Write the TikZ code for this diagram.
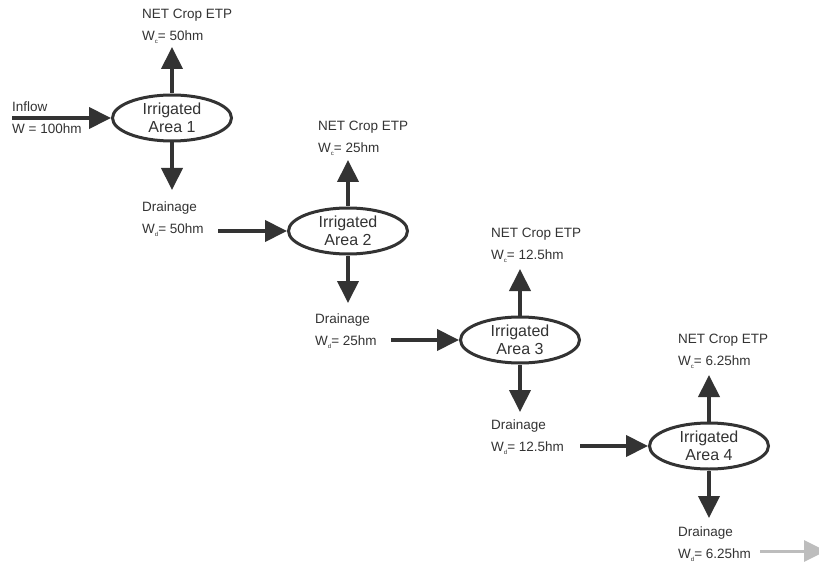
\documentclass[tikz,border=0pt]{standalone}
\usepackage{fontspec}
\setmainfont{Liberation Sans}
\usetikzlibrary{arrows.meta,shapes.geometric}
\definecolor{ink}{HTML}{333333}
\definecolor{faded}{HTML}{BDBDBD}
\newcommand{\Wsub}[1]{W\raisebox{-0.4ex}{\fontsize{6}{6}\selectfont #1}}
\tikzset{
    area/.style={draw=ink, line width=3pt, ellipse, minimum width=119pt, minimum height=46pt,
        inner sep=0pt, align=center, text=ink, font=\fontsize{16}{18}\selectfont},
    flow/.style={draw=ink, line width=4pt, -{Triangle[length=22pt,width=21pt]}},
    lbl/.style={anchor=west, align=left, inner sep=0pt, text=ink, font=\fontsize{13.5}{22}\selectfont},
}
\begin{document}
\begin{tikzpicture}[x=1pt, y=-1pt]
    \useasboundingbox (0,0) rectangle (819,564);

    % Irrigated area 1
    \node[area] (A1) at (172,118) {Irrigated\\Area 1};
    \coordinate (in) at (12,118);
    \coordinate (c1) at (172,47);
    \coordinate (d1) at (172,190);
    \node[lbl] (inflow) at (12,118) {Inflow\\W = 100hm};
    \node[lbl] (etp1) at (142,26) {NET Crop ETP\\\Wsub{c}= 50hm};
    \node[lbl] (dr1) at (142,219) {Drainage\\\Wsub{d}= 50hm};
    \draw[flow] (in) -- (A1.west);
    \draw[flow] (A1.north) -- (c1);
    \draw[flow] (A1.south) -- (d1);

    % Irrigated area 2
    \node[area] (A2) at (348,231) {Irrigated\\Area 2};
    \coordinate (s2) at (218,231);
    \coordinate (c2) at (348,160);
    \coordinate (d2) at (348,303);
    \node[lbl] (etp2) at (318,138) {NET Crop ETP\\\Wsub{c}= 25hm};
    \node[lbl] (dr2) at (315,331) {Drainage\\\Wsub{d}= 25hm};
    \draw[flow] (s2) -- (A2.west);
    \draw[flow] (A2.north) -- (c2);
    \draw[flow] (A2.south) -- (d2);

    % Irrigated area 3
    \node[area] (A3) at (520,340) {Irrigated\\Area 3};
    \coordinate (s3) at (391,340);
    \coordinate (c3) at (520,269);
    \coordinate (d3) at (520,412);
    \node[lbl] (etp3) at (491,245) {NET Crop ETP\\\Wsub{c}= 12.5hm};
    \node[lbl] (dr3) at (491,437) {Drainage\\\Wsub{d}= 12.5hm};
    \draw[flow] (s3) -- (A3.west);
    \draw[flow] (A3.north) -- (c3);
    \draw[flow] (A3.south) -- (d3);

    % Irrigated area 4
    \node[area] (A4) at (709,446) {Irrigated\\Area 4};
    \coordinate (s4) at (580,446);
    \coordinate (c4) at (709,375);
    \coordinate (d4) at (709,518);
    \node[lbl] (etp4) at (678,351) {NET Crop ETP\\\Wsub{c}= 6.25hm};
    \node[lbl] (dr4) at (678,544) {Drainage\\\Wsub{d}= 6.25hm};
    \draw[flow] (s4) -- (A4.west);
    \draw[flow] (A4.north) -- (c4);
    \draw[flow] (A4.south) -- (d4);

    % outflow, faded
    \coordinate (s5) at (760,551);
    \coordinate (out) at (826,551);
    \draw[flow, draw=faded, fill=faded, line width=3pt] (s5) -- (out);
\end{tikzpicture}
\end{document}
